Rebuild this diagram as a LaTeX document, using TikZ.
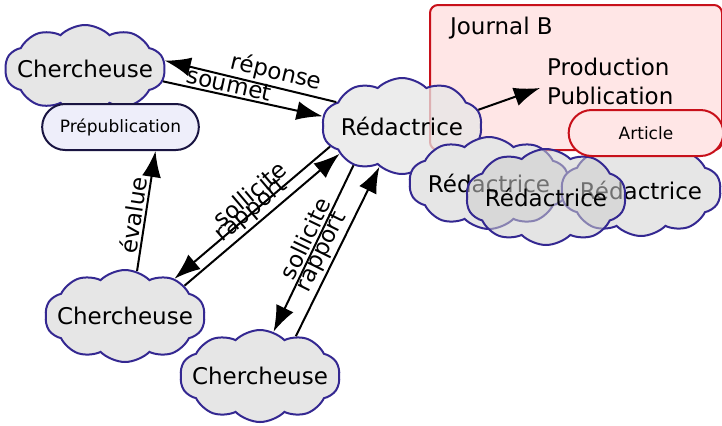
\documentclass[tikz,border=0pt]{standalone}
\usepackage{fontspec}
\setmainfont{DejaVu Sans}
\usetikzlibrary{arrows.meta,shapes.symbols,shapes.misc,positioning}
\definecolor{cloudline}{RGB}{52,40,145}
\definecolor{cloudfill}{RGB}{230,230,230}
\definecolor{cloudshade}{RGB}{205,205,205}
\definecolor{preline}{RGB}{25,20,65}
\definecolor{prefill}{RGB}{238,238,250}
\definecolor{journalline}{RGB}{200,16,26}
\definecolor{journalfill}{RGB}{255,230,230}
\tikzstyle{person}=[cloud, cloud puffs=10, cloud puff arc=90, cloud ignores aspect, draw=cloudline, fill=cloudfill, line width=1pt, inner xsep=-20pt, inner ysep=0pt, minimum width=80pt, minimum height=46pt, font=\fontsize{11.5}{13}\selectfont]
\tikzstyle{pill}=[rounded rectangle, line width=1pt, minimum width=85pt, minimum height=23pt, font=\fontsize{8.5}{10}\selectfont]
\tikzstyle{connect}=[-{Latex[length=13pt,width=9.5pt]}, line width=1pt]
\tikzstyle{connectback}=[{Latex[length=13pt,width=9.5pt]}-, line width=1pt]
\tikzstyle{lbl}=[font=\fontsize{11.5}{13}\selectfont, sloped, above, inner sep=1pt]

\begin{document}
\begin{tikzpicture}[x=0.5pt,y=-0.5pt]
  \useasboundingbox (0,0) rectangle (722,425);
  % journal
  \node[draw=journalline, fill=journalfill, line width=1pt, rounded corners=4pt, minimum width=146pt, minimum height=72.5pt] (journal) at (576,77.5) {};
  \node[font=\fontsize{11.5}{13}\selectfont, anchor=west] (jname) at (443,28) {Journal B};
  \node[font=\fontsize{11.5}{14.5}\selectfont, align=left, anchor=west] (prod) at (540,81) {Production\\Publication};

  % editors
  \node[person, fill opacity=0.75, text opacity=1, minimum height=48pt] (red) at (402,126) {Rédactrice};
  \node[person] (redL) at (489,183) {Rédactrice};
  \node[person] (redR) at (641,190) {Rédactrice};
  \node[person, fill=cloudshade, fill opacity=0.55, text opacity=1, minimum height=48pt] (redM) at (546,197) {Rédactrice};
  \node[pill, draw=journalline, fill=journalfill, minimum width=84pt] (article) at (646,133) {Article};

  % researchers
  \node[person, minimum height=44pt] (ch1) at (85,69) {Chercheuse};
  \node[pill, draw=preline, fill=prefill] (prep) at (120.5,127) {Prépublication};
  \node[person] (ch2) at (125,316) {Chercheuse};
  \node[person] (ch3) at (260,376) {Chercheuse};

  \path (ch1.6) edge [connectback] node [lbl, pos=0.63]{réponse} (red.160)
        (ch1.351) edge [connect] node [lbl, pos=0.4]{soumet} (red.173)
        (ch2.75) edge [connect] node [lbl, pos=0.45]{évalue} ([xshift=17.5pt]prep.south)
        (ch2.37) edge [connectback] node [lbl, pos=0.55, yshift=2pt]{sollicite} (red.196)
        (ch2.27) edge [connect] node [lbl, pos=0.49]{rapport} (red.204)
        (ch3.73) edge [connectback] node [lbl, pos=0.53]{sollicite} (red.219)
        (ch3.48) edge [connect] node [lbl, pos=0.46]{rapport} (red.241)
        (red.12) edge [connect] ([yshift=-3.5pt]prod.west);
\end{tikzpicture}
\end{document}
